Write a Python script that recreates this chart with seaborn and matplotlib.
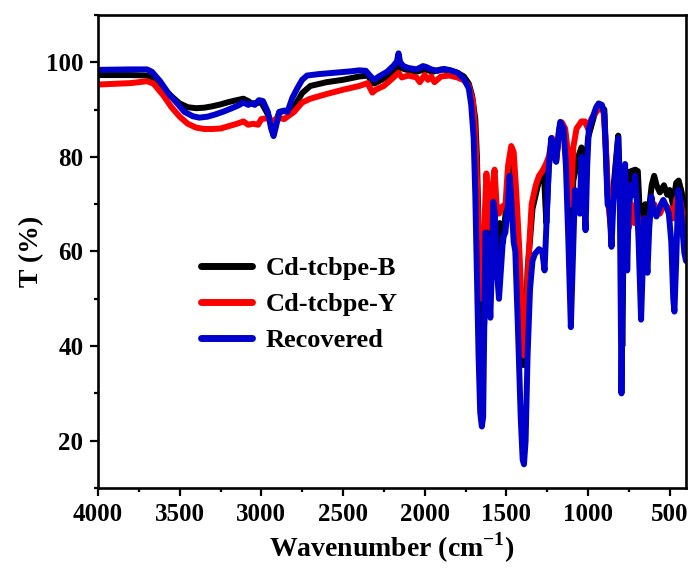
import numpy as np
import pandas as pd
import matplotlib
matplotlib.use("Agg")
import matplotlib.pyplot as plt
import seaborn as sns
from matplotlib.ticker import MultipleLocator

# ---------------- data ----------------
labels = ["Cd-tcbpe-B", "Cd-tcbpe-Y", "Recovered"]
colors = ["#000000", "#ff0000", "#0000cd"]

wn_B = [4000, 3800, 3700, 3650, 3600, 3550, 3500, 3450, 3400, 3350, 3300, 3250, 3200, 3150, 3110, 3080,
        3060, 3000, 2960, 2925, 2890, 2850, 2800, 2750, 2700, 2600, 2500, 2400, 2350, 2310, 2280, 2200,
        2160, 2120, 2050, 2000, 1950, 1900, 1850, 1800, 1760, 1730, 1710, 1690, 1680, 1670, 1655, 1645,
        1635, 1625, 1615, 1600, 1580, 1560, 1540, 1520, 1500, 1475, 1450, 1430, 1410, 1395, 1385, 1370,
        1340, 1300, 1270, 1255, 1240, 1220, 1195, 1170, 1140, 1120, 1105, 1090, 1060, 1040, 1015, 1000,
        960, 930, 900, 880, 860, 840, 815, 800, 790, 780, 765, 750, 735, 710, 695, 680, 665, 650, 630,
        610, 595, 580, 560, 535, 515, 500, 480, 460, 445, 430, 410, 400]
T_B = [97.3, 97.3, 97.2, 96.2, 94.5, 92.8, 91.3, 90.5, 90.3, 90.4, 90.7, 91.1, 91.6, 92.0, 92.3, 91.8,
       91.3, 91.5, 89.0, 86.0, 89.5, 89.7, 90.5, 93.5, 95.0, 95.8, 96.3, 97.0, 97.2, 95.5, 96.0, 97.5,
       99.0, 98.5, 98.0, 98.5, 98.0, 98.5, 98.3, 97.8, 97.0, 95.5, 93.0, 88.0, 80.0, 65.0, 45.0, 40.0,
       45.0, 62.0, 72.0, 62.0, 74.0, 58.0, 66.0, 62.0, 70.0, 78.0, 70.0, 62.0, 48.0, 36.0, 40.0, 56.0,
       69.0, 75.0, 76.5, 66.0, 78.0, 83.0, 79.0, 87.0, 85.0, 75.0, 60.0, 75.0, 80.0, 82.0, 76.0, 84.0,
       89.0, 91.0, 90.0, 72.0, 66.0, 75.0, 84.5, 70.0, 40.0, 70.0, 77.0, 68.0, 77.0, 77.3, 77.0, 66.0,
       60.0, 70.0, 68.0, 74.0, 76.0, 74.0, 72.5, 74.0, 72.0, 73.0, 70.0, 74.5, 75.0, 73.0, 70.0, 69.0]

wn_Y = [4000, 3800, 3700, 3660, 3600, 3550, 3500, 3450, 3400, 3350, 3300, 3250, 3200, 3150, 3110, 3080,
        3050, 3020, 3000, 2960, 2930, 2900, 2860, 2800, 2750, 2700, 2600, 2500, 2400, 2350, 2320, 2300,
        2250, 2200, 2160, 2140, 2100, 2050, 2030, 2000, 1980, 1960, 1940, 1900, 1850, 1800, 1760, 1730,
        1705, 1690, 1680, 1668, 1655, 1645, 1635, 1622, 1610, 1600, 1590, 1572, 1560, 1545, 1525, 1505,
        1490, 1470, 1455, 1440, 1420, 1405, 1392, 1380, 1365, 1345, 1320, 1300, 1280, 1260, 1240, 1220,
        1195, 1175, 1160, 1140, 1120, 1105, 1090, 1070, 1040, 1020, 1000, 980, 950, 925, 905, 890, 875,
        860, 845, 820, 800, 790, 780, 765, 750, 735, 715, 700, 685, 670, 655, 630, 610, 595, 580, 560,
        540, 520, 500, 480, 460, 445, 430, 415, 400]
T_Y = [95.3, 95.6, 96.0, 95.5, 93.0, 90.5, 88.5, 87.0, 86.2, 85.9, 85.9, 86.0, 86.5, 87.0, 87.5, 86.8,
       87.0, 86.8, 88.0, 88.2, 87.5, 88.3, 88.0, 89.5, 91.5, 92.3, 93.3, 94.2, 95.0, 95.6, 93.6, 94.2,
       95.0, 96.5, 97.8, 96.8, 97.2, 96.8, 95.8, 97.3, 96.3, 97.0, 95.8, 97.0, 97.2, 96.8, 96.2, 95.0,
       92.0, 85.0, 75.0, 60.0, 50.0, 52.0, 65.0, 76.5, 70.0, 65.0, 72.0, 77.3, 70.0, 68.0, 69.5, 70.0,
       78.0, 82.3, 81.0, 73.0, 60.0, 48.0, 38.0, 42.0, 58.0, 70.0, 74.0, 76.0, 77.0, 78.3, 80.0, 84.0,
       79.5, 86.0, 87.3, 86.0, 80.0, 70.0, 82.0, 86.0, 87.5, 87.5, 86.0, 88.0, 89.5, 90.5, 89.5, 82.0, 70.0,
       65.0, 72.0, 78.0, 72.0, 55.0, 70.0, 73.0, 65.0, 70.0, 66.0, 68.0, 66.0, 62.0, 67.0, 66.0, 69.0, 70.0, 68.5, 68.0,
       69.5, 69.5, 69.0, 67.0, 71.0, 72.0, 70.0, 66.0, 64.0]

wn_R = [4000, 3800, 3700, 3670, 3620, 3570, 3520, 3470, 3420, 3380, 3330, 3280, 3230, 3180, 3140, 3110,
        3080, 3060, 3040, 3015, 2990, 2960, 2940, 2925, 2910, 2890, 2860, 2840, 2810, 2780, 2750, 2720,
        2650, 2550, 2450, 2400, 2360, 2330, 2310, 2280, 2230, 2190, 2170, 2160, 2150, 2130, 2100, 2050,
        2010, 1990, 1960, 1920, 1880, 1840, 1800, 1760, 1730, 1715, 1700, 1690, 1680, 1670, 1660, 1650,
        1642, 1635, 1628, 1620, 1610, 1598, 1590, 1580, 1570, 1560, 1545, 1535, 1520, 1506, 1490, 1480,
        1468, 1455, 1445, 1430, 1412, 1400, 1392, 1382, 1370, 1355, 1340, 1325, 1300, 1280, 1266, 1255,
        1240, 1225, 1210, 1195, 1180, 1170, 1150, 1135, 1120, 1105, 1095, 1080, 1065, 1050, 1040, 1025,
        1015, 1005, 995, 975, 950, 935, 915, 900, 890, 880, 868, 856, 845, 830, 815, 805, 795, 785, 773,
        765, 760, 750, 735, 720, 712, 700, 690, 675, 662, 655, 645, 636, 625, 612, 600, 581, 560, 539,
        520, 505, 490, 478, 471, 460, 447, 435, 425, 410, 400]
T_R = [98.4, 98.5, 98.5, 98.0, 96.0, 93.5, 91.5, 89.5, 88.6, 88.3, 88.5, 89.0, 89.6, 90.3, 90.9, 91.5,
       91.0, 91.3, 91.0, 92.0, 91.8, 89.5, 86.0, 84.4, 86.5, 89.5, 89.8, 89.5, 92.5, 94.5, 96.3, 97.2,
       97.5, 97.8, 98.1, 98.3, 98.2, 97.0, 96.3, 97.0, 98.0, 99.3, 100.2, 101.9, 100.0, 99.2, 98.8, 98.5,
       99.2, 99.0, 98.5, 98.2, 98.6, 98.3, 97.8, 96.5, 94.5, 91.0, 84.0, 72.0, 55.0, 38.0, 26.0, 23.0,
       25.0, 45.0, 64.0, 63.0, 56.0, 46.0, 55.0, 70.5, 68.0, 57.0, 50.0, 55.0, 63.0, 64.0, 70.0, 76.0,
       70.0, 62.0, 60.0, 45.0, 25.0, 16.0, 15.0, 20.0, 38.0, 52.0, 58.0, 59.5, 60.5, 60.0, 56.0, 65.0,
       78.0, 84.0, 82.0, 79.0, 85.0, 87.4, 86.0, 78.0, 62.0, 44.0, 56.0, 73.0, 70.0, 68.0, 80.0, 72.0,
       64.5, 78.0, 86.0, 88.0, 90.5, 91.3, 91.0, 89.0, 80.0, 70.0, 69.0, 61.0, 70.0, 78.0, 84.0, 70.0, 30.0, 60.0, 78.5,
       70.0, 56.0, 70.0, 74.0, 72.0, 76.0, 70.0, 62.0, 45.6, 60.0, 67.0, 60.0, 55.5, 65.0, 71.6, 69.0, 67.4, 69.5, 70.9,
       69.5, 68.0, 62.0, 50.0, 47.3, 58.0, 73.0, 71.0, 66.0, 59.7, 58.0]

x_ticks = [4000, 3500, 3000, 2500, 2000, 1500, 1000, 500]
y_ticks = [20, 40, 60, 80, 100]

# ---------------- build long-form table ----------------
df = pd.concat([
    pd.DataFrame({"wn": wn_B, "T": T_B, "sample": labels[0]}),
    pd.DataFrame({"wn": wn_Y, "T": T_Y, "sample": labels[1]}),
    pd.DataFrame({"wn": wn_R, "T": T_R, "sample": labels[2]}),
], ignore_index=True)

sns.set_style("ticks")
plt.rcParams["font.family"] = ["Liberation Serif", "DejaVu Serif"]
plt.rcParams["font.weight"] = "bold"
plt.rcParams["axes.labelweight"] = "bold"
plt.rcParams["text.color"] = "black"
plt.rcParams["axes.labelcolor"] = "black"
plt.rcParams["xtick.color"] = "black"
plt.rcParams["ytick.color"] = "black"
plt.rcParams["mathtext.fontset"] = "custom"
plt.rcParams["mathtext.bf"] = "Liberation Serif:bold"
plt.rcParams["mathtext.rm"] = "Liberation Serif:bold"

fig = plt.figure(figsize=(6.91, 5.69), dpi=100)
ax = fig.add_axes([98 / 691, 81 / 569, 588 / 691, 473 / 569])

sns.lineplot(data=df, x="wn", y="T", hue="sample", hue_order=labels,
             palette=dict(zip(labels, colors)), linewidth=4.3, ax=ax,
             estimator=None, sort=True, legend=True)

ax.set_xlim(4000, 400)
ax.set_ylim(10, 110)
ax.set_xticks(x_ticks)
ax.set_yticks(y_ticks)
ax.xaxis.set_minor_locator(MultipleLocator(250))
ax.yaxis.set_minor_locator(MultipleLocator(10))

ax.tick_params(which="major", direction="out", length=5.5, width=1.6, labelsize=18, pad=5,
               top=False, right=False, color="black", labelcolor="black")
ax.tick_params(which="minor", direction="out", length=3, width=1.6, top=False, right=False, color="black")
for lab in ax.get_xticklabels() + ax.get_yticklabels():
    lab.set_fontweight("bold")

for sp in ax.spines.values():
    sp.set_visible(True)
    sp.set_linewidth(1.9)
    sp.set_color("black")

ax.set_xlabel("Wavenumber (cm$^{\\mathbf{-1}}$)", fontsize=20, fontweight="bold", labelpad=4, color="black")
ax.set_ylabel("T (%)", fontsize=20, fontweight="bold", labelpad=1, color="black")

handles, labs = ax.get_legend_handles_labels()
leg = ax.legend(handles, labs, loc="upper left", bbox_to_anchor=(0.175, 0.489),
                frameon=False, fontsize=19, handlelength=1.95, handletextpad=0.5,
                labelspacing=0.48, borderpad=0, borderaxespad=0)
for line in leg.get_lines():
    line.set_linewidth(5.0)
    line.set_solid_capstyle("round")
for t in leg.get_texts():
    t.set_fontweight("bold")
    t.set_color("black")

fig.savefig("out.png", dpi=100)
